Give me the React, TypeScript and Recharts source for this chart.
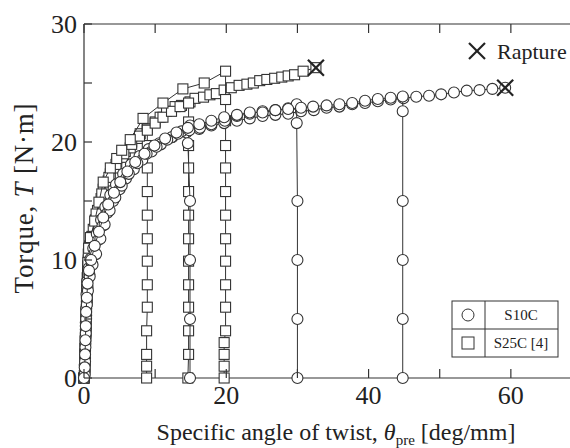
import { Scatter, ScatterChart, XAxis, YAxis } from "recharts";

type Pair = [number, number];

// theta_pre [deg/mm], torque [N·m]
const s10cMonotonic: Pair[] = [
    [0, 0], [0.1, 1.1], [0.15, 2.3], [0.2, 3.5], [0.25, 4.7], [0.3, 5.9], [0.35, 7.1], [0.45, 8.2],
    [0.65, 9.3], [0.9, 10.1], [1.3, 11.0], [1.8, 12.2], [2.4, 13.4], [3.0, 14.5], [3.7, 15.5],
    [4.5, 16.4], [5.5, 17.3], [6.6, 18.1], [7.8, 18.8], [9.1, 19.4], [10.6, 19.9], [12.4, 20.4],
    [14.4, 20.8], [16.2, 21.1], [17.9, 21.4], [19.7, 21.6], [21.5, 21.8], [23.3, 22.0], [25.1, 22.2],
    [26.9, 22.3], [28.7, 22.4], [30.5, 22.6], [32.3, 22.7], [34.1, 22.9], [35.9, 23.0], [37.7, 23.2],
    [39.5, 23.3], [41.3, 23.45], [43.1, 23.6], [44.9, 23.7], [46.7, 23.84], [48.5, 23.92],
    [50.2, 24.04], [52.0, 24.2], [53.8, 24.35], [55.6, 24.4], [57.4, 24.5], [59.2, 24.6],
];

const s10cPre15: Pair[] = [
    [0, 0], [0.1, 0.6], [0.15, 1.7], [0.2, 2.9], [0.25, 4.1], [0.3, 5.3], [0.4, 6.5], [0.5, 7.7],
    [0.75, 8.8], [1.1, 9.7], [1.5, 10.6], [2.0, 11.7], [2.6, 12.9], [3.3, 14.0], [4.1, 15.0],
    [5.0, 16.0], [5.9, 16.9], [7.0, 17.7], [8.2, 18.5], [9.5, 19.2], [10.8, 19.8], [12.3, 20.4],
    [13.7, 20.9], [14.9, 21.4], [14.6, 19.9], [14.9, 15.0], [14.9, 10.0], [14.9, 5.0], [14.9, 0],
];

const s10cPre30: Pair[] = [
    [0, 0], [0.1, 0.3], [0.15, 1.4], [0.2, 2.6], [0.25, 3.8], [0.3, 5.0], [0.4, 6.2], [0.55, 7.4],
    [0.8, 8.6], [1.2, 9.6], [1.7, 10.5], [2.3, 11.8], [2.9, 13.0], [3.6, 14.2], [4.4, 15.3],
    [5.3, 16.3], [6.3, 17.3], [7.5, 18.2], [8.8, 19.0], [10.2, 19.6], [11.7, 20.2], [13.2, 20.7],
    [14.8, 21.0], [16.3, 21.2], [17.9, 21.5], [19.8, 21.8], [21.5, 22.2], [23.3, 22.4], [25.1, 22.6],
    [26.9, 22.7], [28.7, 22.85], [29.9, 23.2], [29.9, 21.6], [30.0, 15.0], [30.0, 10.0], [30.0, 5.0],
    [30.0, 0],
];

const s10cPre45: Pair[] = [
    [0, 0], [0.1, 0.9], [0.15, 2.0], [0.2, 3.2], [0.25, 4.4], [0.3, 5.6], [0.4, 6.8], [0.5, 8.0],
    [0.7, 9.1], [1.0, 10.0], [1.5, 11.2], [2.1, 12.4], [2.7, 13.6], [3.4, 14.7], [4.2, 15.7],
    [5.1, 16.6], [6.1, 17.5], [7.2, 18.3], [8.5, 19.0], [9.9, 19.7], [11.4, 20.3], [13.0, 20.8],
    [14.6, 21.2], [16.2, 21.5], [17.9, 21.8], [19.7, 22.1], [21.5, 22.3], [23.3, 22.5], [25.1, 22.5],
    [26.9, 22.7], [28.7, 22.8], [30.5, 22.9], [32.2, 23.0], [34.1, 23.1], [35.9, 23.2], [37.7, 23.3],
    [39.5, 23.5], [41.3, 23.65], [43.1, 23.75], [44.8, 23.85], [44.8, 22.6], [44.8, 15.0],
    [44.8, 10.0], [44.8, 5.0], [44.8, 0],
];

const s25cMonotonic: Pair[] = [
    [0, 0], [0.1, 1.0], [0.15, 2.0], [0.2, 3.0], [0.25, 4.0], [0.3, 5.0], [0.35, 6.0], [0.4, 7.0],
    [0.45, 8.0], [0.5, 9.0], [0.6, 10.0], [0.8, 11.2], [1.3, 12.6], [1.9, 14.2], [2.7, 16.0],
    [3.7, 17.3], [4.6, 18.3], [5.8, 19.2], [6.7, 20.0], [7.9, 20.7], [8.9, 21.1], [10.0, 21.7],
    [10.7, 22.1], [11.6, 22.6], [12.8, 23.0], [13.7, 23.1], [14.9, 23.4], [15.6, 23.7], [16.8, 23.8],
    [17.7, 24.0], [18.6, 24.1], [19.7, 24.4], [20.7, 24.6], [21.8, 24.8], [22.9, 24.9], [23.8, 25.0],
    [24.7, 25.2], [25.7, 25.3], [26.8, 25.4], [27.8, 25.5], [28.7, 25.6], [29.6, 25.7], [30.8, 26.0],
    [32.6, 26.3],
];

const s25cPre9: Pair[] = [
    [0, 0], [0.1, 0.5], [0.15, 1.5], [0.2, 2.5], [0.25, 3.5], [0.3, 4.5], [0.35, 5.5], [0.4, 6.5],
    [0.45, 7.5], [0.5, 8.5], [0.55, 9.5], [0.7, 10.6], [1.0, 11.6], [1.6, 13.4], [2.4, 15.2],
    [3.4, 16.7], [4.4, 17.8], [5.4, 18.7], [6.5, 19.5], [7.7, 20.3], [8.9, 21.1], [8.9, 19.7],
    [8.9, 17.8], [8.9, 15.8], [8.9, 13.8], [8.9, 11.8], [8.9, 9.9], [8.9, 7.9], [8.9, 6.0],
    [8.8, 4.0], [8.8, 2.0], [8.8, 1.0], [8.8, 0],
];

const s25cPre15: Pair[] = [
    [0, 0], [0.1, 1.5], [0.15, 2.5], [0.2, 3.5], [0.25, 4.5], [0.3, 5.5], [0.35, 6.5], [0.4, 7.5],
    [0.45, 8.5], [0.5, 9.5], [0.6, 10.5], [1.1, 12.0], [1.7, 13.9], [2.5, 15.6], [3.5, 17.0],
    [4.5, 18.1], [5.6, 19.0], [6.7, 19.8], [7.8, 20.5], [8.9, 21.0], [10.0, 21.6], [11.1, 22.1],
    [12.3, 22.6], [13.5, 23.0], [14.7, 23.3], [14.7, 21.7], [14.7, 19.7], [14.7, 17.8], [14.7, 15.8],
    [14.7, 13.8], [14.7, 11.8], [14.7, 9.9], [14.7, 7.9], [14.7, 6.0], [14.7, 4.0], [14.7, 2.0],
    [14.6, 0],
];

const s25cPre20: Pair[] = [
    [0, 0], [0.1, 0.8], [0.15, 1.8], [0.2, 2.8], [0.25, 3.8], [0.3, 4.8], [0.35, 5.8], [0.4, 6.8],
    [0.45, 7.8], [0.5, 8.8], [0.55, 9.8], [0.65, 11.0], [0.9, 11.9], [1.5, 13.3], [2.1, 14.9],
    [2.7, 16.6], [3.7, 17.8], [4.6, 18.6], [5.3, 19.3], [6.5, 20.2], [8.3, 22.0], [11.1, 23.3],
    [13.9, 24.5], [16.9, 25.0], [19.9, 26.0], [19.9, 23.6], [19.9, 21.8], [19.9, 19.7], [19.9, 17.8],
    [19.9, 15.8], [19.9, 13.8], [19.9, 11.8], [19.9, 9.9], [19.9, 7.9], [19.9, 6.0], [19.9, 4.0],
    [19.7, 3.0], [19.7, 2.0], [19.7, 1.0], [19.7, 0],
];

const ruptures: Pair[] = [[32.6, 26.3], [59.2, 24.6]];

const xTicks = [0, 10, 20, 30, 40, 50, 60, 70];
const yTicks = [0, 5, 10, 15, 20, 25, 30];

const INK = "#333";
const TEXT = "#222";
const FONT = "'Liberation Serif', 'Times New Roman', serif";

const pts = (arr: Pair[]) => arr.map(([x, y]) => ({ x, y }));

const CircleDot = (p: any) => (
    <circle cx={p.cx} cy={p.cy} r={5.5} fill="#fff" stroke={INK} strokeWidth={1.1} />
);
const SquareDot = (p: any) => (
    <rect x={p.cx - 5} y={p.cy - 5} width={10} height={10} fill="#fff" stroke={INK} strokeWidth={1.1} />
);
const CrossDot = (p: any) => (
    <g stroke={TEXT} strokeWidth={2.2}>
        <line x1={p.cx - 8} y1={p.cy - 8} x2={p.cx + 8} y2={p.cy + 8} />
        <line x1={p.cx - 8} y1={p.cy + 8} x2={p.cx + 8} y2={p.cy - 8} />
    </g>
);

// ticks point into the plot; labels only on the major ones
const BottomTick = ({ x, y, payload }: any) => (
    <g>
        <line x1={x} x2={x} y1={y} y2={y - 9} stroke={INK} strokeWidth={1.2} />
        {payload.value % 20 === 0 && (
            <text x={x} y={y + 26} textAnchor="middle" fontSize={26} fontFamily={FONT} fill={TEXT}>
                {payload.value}
            </text>
        )}
    </g>
);

const TopTick = ({ x, y }: any) => (
    <line x1={x} x2={x} y1={y} y2={y + 9} stroke={INK} strokeWidth={1.2} />
);

const LeftTick = ({ x, y, payload }: any) => (
    <g>
        <line x1={x} x2={x + 8} y1={y} y2={y} stroke={INK} strokeWidth={1.2} />
        {payload.value % 10 === 0 && (
            <text x={x - 7} y={y + 9} textAnchor="end" fontSize={26} fontFamily={FONT} fill={TEXT}>
                {payload.value}
            </text>
        )}
    </g>
);

const line = { stroke: INK, strokeWidth: 1 };

export default function App() {
    return (
        <div
            style={{
                position: "absolute",
                left: 0,
                top: 0,
                width: 570,
                height: 448,
                overflow: "hidden",
                background: "#fff",
            }}
        >
            <ScatterChart width={600} height={448} margin={{ top: 14, right: 18, bottom: 40, left: 54 }}>
                <XAxis
                    type="number"
                    dataKey="x"
                    domain={[0, 70]}
                    ticks={xTicks}
                    interval={0}
                    height={30}
                    tickSize={0}
                    tickMargin={0}
                    tickLine={false}
                    tick={BottomTick}
                    axisLine={{ stroke: INK, strokeWidth: 1.2 }}
                />
                <XAxis
                    xAxisId="top"
                    orientation="top"
                    type="number"
                    dataKey="x"
                    domain={[0, 70]}
                    ticks={xTicks}
                    interval={0}
                    height={10}
                    tickSize={0}
                    tickMargin={0}
                    tickLine={false}
                    tick={TopTick}
                    axisLine={{ stroke: INK, strokeWidth: 1.2 }}
                />
                <YAxis
                    type="number"
                    dataKey="y"
                    domain={[0, 30]}
                    ticks={yTicks}
                    interval={0}
                    width={30}
                    tickSize={0}
                    tickMargin={0}
                    tickLine={false}
                    tick={LeftTick}
                    axisLine={{ stroke: INK, strokeWidth: 1.2 }}
                />
                <Scatter data={pts(s25cMonotonic)} line={line} shape={SquareDot} isAnimationActive={false} />
                <Scatter data={pts(s25cPre9)} line={line} shape={SquareDot} isAnimationActive={false} />
                <Scatter data={pts(s25cPre15)} line={line} shape={SquareDot} isAnimationActive={false} />
                <Scatter data={pts(s25cPre20)} line={line} shape={SquareDot} isAnimationActive={false} />
                <Scatter data={pts(s10cMonotonic)} line={line} shape={CircleDot} isAnimationActive={false} />
                <Scatter data={pts(s10cPre15)} line={line} shape={CircleDot} isAnimationActive={false} />
                <Scatter data={pts(s10cPre30)} line={line} shape={CircleDot} isAnimationActive={false} />
                <Scatter data={pts(s10cPre45)} line={line} shape={CircleDot} isAnimationActive={false} />
                <Scatter xAxisId="top" data={pts(ruptures)} shape={CrossDot} isAnimationActive={false} />
            </ScatterChart>
            <svg
                width={570}
                height={448}
                style={{ position: "absolute", left: 0, top: 0, pointerEvents: "none" }}
                fontFamily={FONT}
                fill={TEXT}
            >
                <text x={336} y={440} textAnchor="middle" fontSize={24}>
                    Specific angle of twist,{" "}
                    <tspan fontStyle="italic">θ</tspan>
                    <tspan fontSize={15} dy={5}>pre</tspan>
                    <tspan dy={-5}> [deg/mm]</tspan>
                </text>
                <text
                    transform="translate(33,198) rotate(-90)"
                    textAnchor="middle"
                    fontSize={27}
                    letterSpacing={0.8}
                >
                    Torque, <tspan fontStyle="italic">T</tspan> [N·m]
                </text>
                <g stroke={TEXT} strokeWidth={2.2}>
                    <line x1={469} y1={43} x2={485} y2={59} />
                    <line x1={469} y1={59} x2={485} y2={43} />
                </g>
                <text x={497} y={59} fontSize={22}>
                    Rapture
                </text>
                <g fill="none" stroke={INK} strokeWidth={1}>
                    <rect x={452} y={301} width={106} height={56} />
                    <line x1={452} x2={558} y1={329} y2={329} />
                    <line x1={485} x2={485} y1={301} y2={357} />
                </g>
                <circle cx={468} cy={315} r={6} fill="#fff" stroke={INK} strokeWidth={1} />
                <rect x={462} y={337} width={12} height={12} fill="#fff" stroke={INK} strokeWidth={1} />
                <text x={521} y={320} textAnchor="middle" fontSize={15}>
                    S10C
                </text>
                <text x={521} y={348} textAnchor="middle" fontSize={15}>
                    S25C [4]
                </text>
            </svg>
        </div>
    );
}
